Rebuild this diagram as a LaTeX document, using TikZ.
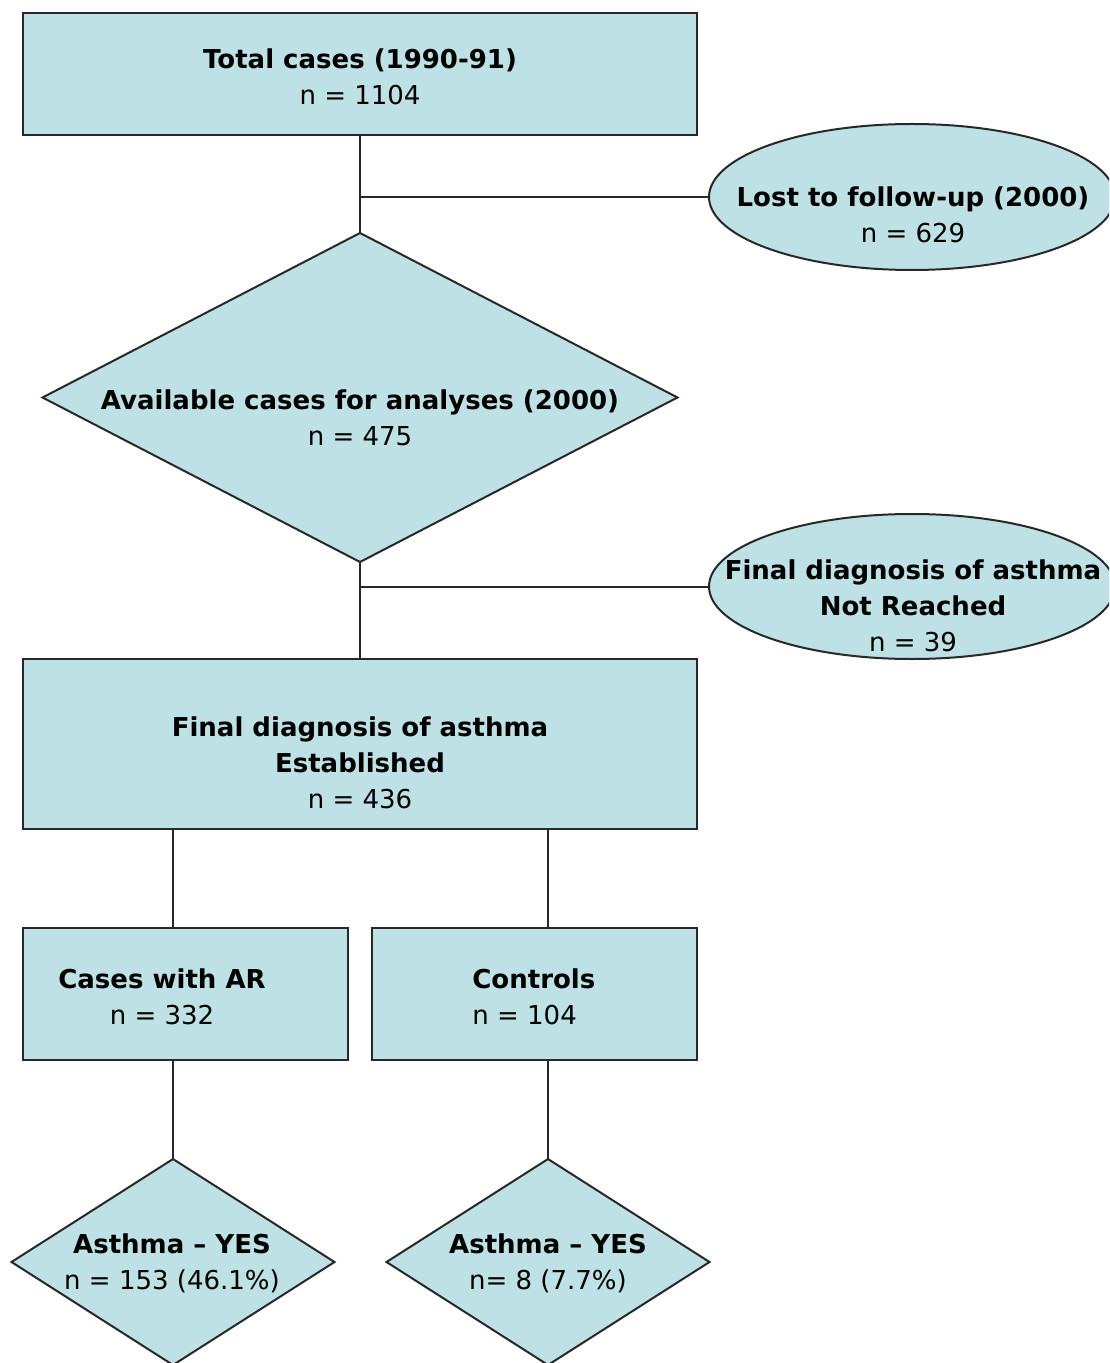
\documentclass[tikz,border=0pt]{standalone}
\usepackage{fontspec}
\setmainfont{DejaVu Sans}
\usetikzlibrary{shapes.geometric}
\definecolor{fillc}{RGB}{189,225,229}
\definecolor{linec}{RGB}{40,40,40}
\begin{document}
\begin{tikzpicture}[x=0.5pt,y=-0.5pt,
  shp/.style={draw=linec,fill=fillc,line width=1pt,inner sep=0pt,outer sep=0pt},
  boxs/.style={shp,rectangle},
  ells/.style={shp,ellipse},
  dias/.style={shp,diamond},
  txt/.style={font=\fontsize{13}{18}\selectfont,align=center,inner sep=0pt},
  conn/.style={draw=linec,line width=1pt}]
\useasboundingbox (0,0) rectangle (1109,1363);
\clip (0,0) rectangle (1109,1363);
% shapes
\node[boxs,minimum width=337pt,minimum height=61pt] (b1) at (360,74) {};
\node[ells,minimum width=203pt,minimum height=73pt] (e1) at (912,197) {};
\node[dias,minimum width=317.5pt,minimum height=164.5pt] (d1) at (360,397.5) {};
\node[ells,minimum width=203pt,minimum height=72.5pt] (e2) at (912,586.5) {};
\node[boxs,minimum width=337pt,minimum height=85pt] (b2) at (360,744) {};
\node[boxs,minimum width=162.5pt,minimum height=66pt] (b3) at (185.5,994) {};
\node[boxs,minimum width=162.5pt,minimum height=66pt] (b4) at (534.5,994) {};
\node[dias,minimum width=161.5pt,minimum height=103pt] (d2) at (173,1262) {};
\node[dias,minimum width=161.5pt,minimum height=103pt] (d3) at (548,1262) {};
% texts
\node[txt] (t1) at (360,77) {\textbf{Total cases (1990-91)}\\n = 1104};
\node[txt] (te1) at (913,215) {\textbf{Lost to follow-up (2000)}\\n = 629};
\node[txt] (td1) at (360,418) {\textbf{Available cases for analyses (2000)}\\n = 475};
\node[txt] (te2) at (913,606) {\textbf{Final diagnosis of asthma}\\\textbf{Not Reached}\\n = 39};
\node[txt] (t2) at (360,763) {\textbf{Final diagnosis of asthma}\\\textbf{Established}\\n = 436};
\node[txt] (t3) at (162,997) {\textbf{Cases with AR}\\n = 332};
\node[txt,align=left,anchor=west] (t4) at (472,997) {\textbf{Controls}\\n = 104};
\node[txt] (td2) at (172,1263) {\textbf{Asthma – YES}\\n = 153 (46.1\%)};
\node[txt] (td3) at (548,1263) {\textbf{Asthma – YES}\\n= 8 (7.7\%)};
% connectors
\coordinate (j1) at (360,197);
\coordinate (j2) at (360,586.5);
\draw[conn] (b1.south) -- (d1.north);
\draw[conn] (j1) -- (e1.west);
\draw[conn] (d1.south) -- (b2.north);
\draw[conn] (j2) -- (e2.west);
\draw[conn] (b2.south -| d2.north) -- (b3.north -| d2.north);
\draw[conn] (b2.south -| d3.north) -- (b4.north -| d3.north);
\draw[conn] (b3.south -| d2.north) -- (d2.north);
\draw[conn] (b4.south -| d3.north) -- (d3.north);
\end{tikzpicture}
\end{document}
